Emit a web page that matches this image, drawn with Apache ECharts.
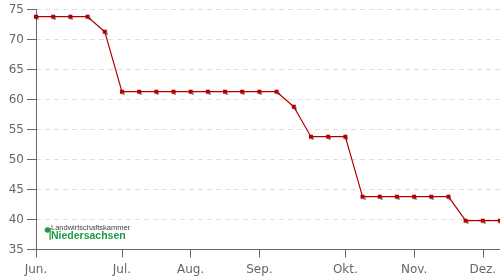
<!DOCTYPE html>
<html>
<head>
<meta charset="utf-8">
<script src="https://cdn.jsdelivr.net/npm/echarts@6/dist/echarts.min.js"></script>
<style>html,body{margin:0;padding:0;background:#fff}#c{width:500px;height:280px}</style>
</head>
<body>
<div id="c"></div>
<script>
// weekly dates
const weeks = ['2025-06-02','2025-06-09','2025-06-16','2025-06-23','2025-06-30','2025-07-07','2025-07-14','2025-07-21','2025-07-28','2025-08-04','2025-08-11','2025-08-18','2025-08-25','2025-09-01','2025-09-08','2025-09-15','2025-09-22','2025-09-29','2025-10-06','2025-10-13','2025-10-20','2025-10-27','2025-11-03','2025-11-10','2025-11-17','2025-11-24','2025-12-01','2025-12-08'];
const prices = [73.8,73.8,73.8,73.8,71.3,61.3,61.3,61.3,61.3,61.3,61.3,61.3,61.3,61.3,61.3,58.8,53.8,53.8,53.8,43.8,43.8,43.8,43.8,43.8,43.8,39.8,39.8,39.8];
const monthNames = ['Jan.','Feb.','Mär.','Apr.','Mai','Jun.','Jul.','Aug.','Sep.','Okt.','Nov.','Dez.'];
const yTicks = [35,40,45,50,55,60,65,70,75];

function isMonthStart(idx){
  const d = parseInt(weeks[idx].slice(8,10),10);
  return d <= 7;
}
const chart = echarts.init(document.getElementById('c'), null, {renderer:'canvas'});
chart.setOption({
  animation:false,
  backgroundColor:'#fff',
  grid:{left:36,right:0,top:9.5,bottom:30.5,outerBoundsMode:'none'},
  xAxis:{
    type:'category',
    data:weeks,
    boundaryGap:false,
    axisLine:{lineStyle:{color:'#666',width:1}},
    axisTick:{show:true,length:8,interval:(i)=>isMonthStart(i),lineStyle:{color:'#666'}},
    axisLabel:{
      interval:(i)=>isMonthStart(i),
      formatter:(v)=>monthNames[parseInt(v.slice(5,7),10)-1],
      color:'#666',fontFamily:'DejaVu Sans',fontSize:12,margin:14
    },
    splitLine:{show:false}
  },
  yAxis:{
    type:'value',
    min:yTicks[0],max:yTicks[yTicks.length-1],interval:5,
    axisLine:{show:true,lineStyle:{color:'#666',width:1}},
    axisTick:{show:true,length:9,lineStyle:{color:'#666'}},
    axisLabel:{color:'#666',fontFamily:'DejaVu Sans',fontSize:12,margin:12},
    splitLine:{show:true,lineStyle:{color:'#ddd',type:[5,4],width:1}}
  },
  series:[{
    type:'line',
    data:prices,
    symbol:'rect',
    symbolSize:4,
    showAllSymbol:true,
    lineStyle:{color:'#b00000',width:1.2},
    itemStyle:{color:'#b00000',shadowColor:'rgba(0,0,0,0.35)',shadowOffsetX:1,shadowOffsetY:1,shadowBlur:1},
    clip:false
  }],
  graphic:[
    {type:'circle',shape:{cx:47.5,cy:230,r:2.8},style:{fill:'#1e9a45'}},
    {type:'rect',shape:{x:49.5,y:228,width:1.2,height:12},style:{fill:'#1e9a45'}},
    {type:'text',left:51,top:223.5,style:{text:'Landwirtschaftskammer',fontFamily:'Liberation Sans',fontSize:7.5,fill:'#444'}},
    {type:'text',left:51,top:230.5,style:{text:'Niedersachsen',fontFamily:'Liberation Sans',fontSize:10.5,fontWeight:'bold',fill:'#1e9a45'}}
  ]
});
</script>
</body>
</html>
